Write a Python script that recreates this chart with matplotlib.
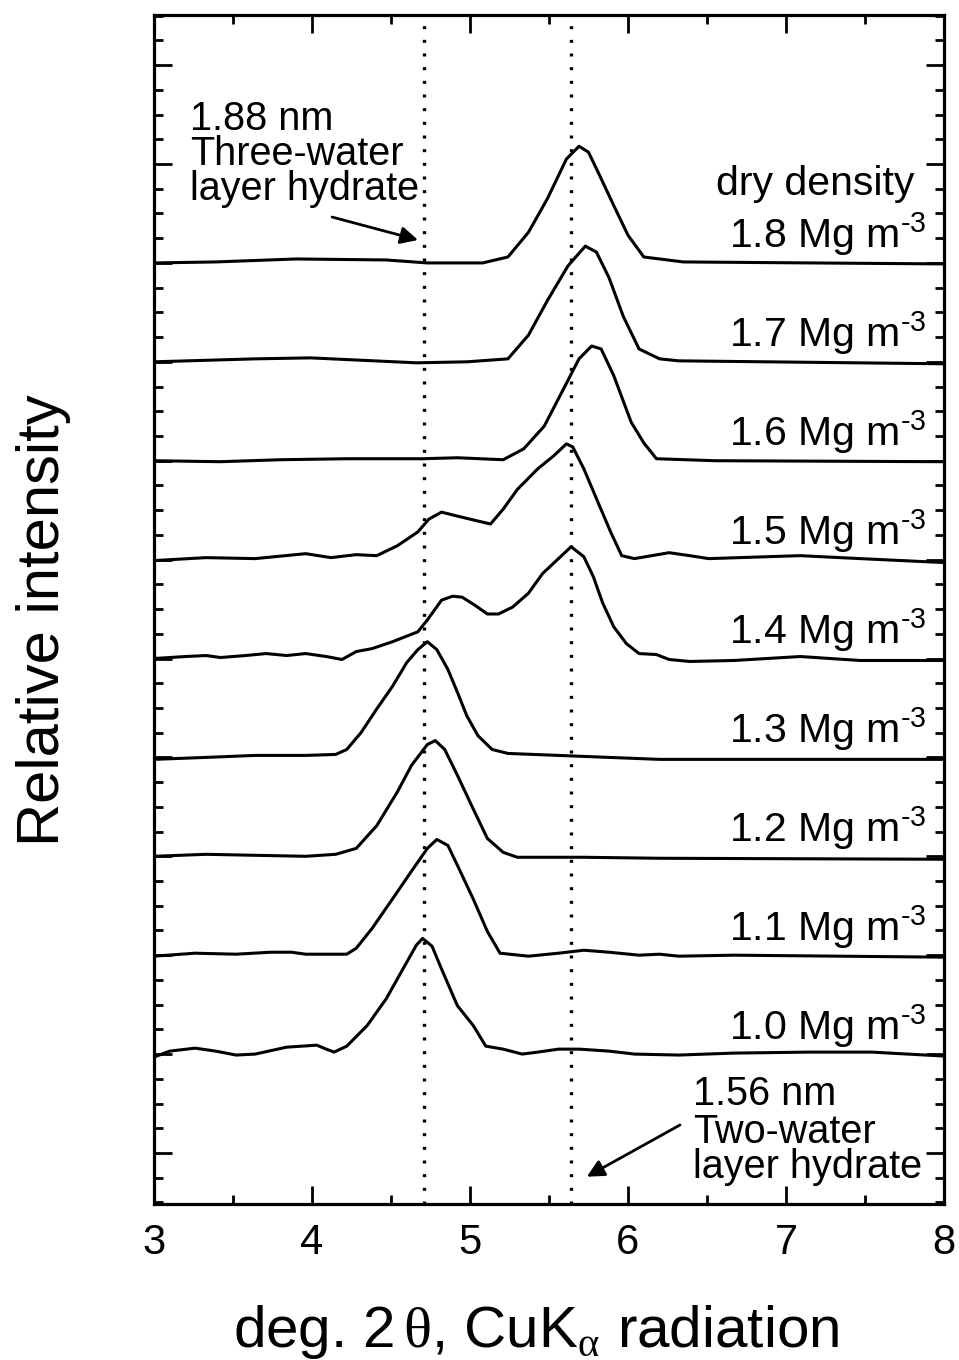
import matplotlib
matplotlib.use("Agg")
import matplotlib.pyplot as plt
from matplotlib.ticker import MultipleLocator

plt.rcParams['font.family'] = ['Liberation Sans', 'DejaVu Sans']
plt.rcParams['mathtext.fontset'] = 'custom'
plt.rcParams['mathtext.rm'] = 'Liberation Sans'
plt.rcParams['mathtext.it'] = 'Liberation Sans:italic'
plt.rcParams['mathtext.tt'] = 'Liberation Serif'

# ---- XRD traces (2θ in degrees, intensity above each baseline) ----
densities = ["1.0", "1.1", "1.2", "1.3", "1.4", "1.5", "1.6", "1.7", "1.8"]
offsets = [1, 2, 3, 4, 5, 6, 7, 8, 9]

tt_10 = [3.0, 3.10, 3.26, 3.39, 3.52, 3.64, 3.84, 4.03, 4.09, 4.14, 4.22, 4.35, 4.47,
         4.60, 4.66, 4.70, 4.76, 4.82, 4.92, 5.02, 5.10, 5.21, 5.33, 5.43, 5.56, 5.69,
         5.88, 6.04, 6.32, 6.67, 7.15, 7.54, 8.0]
i_10 = [-0.03, 0.03, 0.06, 0.03, -0.01, 0.0, 0.07, 0.09, 0.05, 0.02, 0.08, 0.29, 0.56,
        0.93, 1.10, 1.17, 1.09, 0.86, 0.49, 0.29, 0.08, 0.05, 0.0, 0.02, 0.05, 0.05,
        0.03, 0.0, -0.01, 0.01, 0.02, 0.02, -0.02]

tt_11 = [3.0, 3.26, 3.52, 3.74, 3.87, 3.96, 4.22, 4.28, 4.38, 4.51, 4.63, 4.73, 4.79,
         4.86, 4.92, 5.02, 5.11, 5.19, 5.37, 5.56, 5.72, 5.88, 6.07, 6.20, 6.32, 6.67, 8.0]
i_11 = [-0.01, 0.02, 0.01, 0.03, 0.03, 0.01, 0.01, 0.07, 0.27, 0.57, 0.85, 1.08, 1.17,
        1.11, 0.91, 0.57, 0.24, 0.02, -0.01, 0.02, 0.05, 0.03, 0.0, 0.01, -0.01, 0.0, -0.02]

tt_12 = [3.0, 3.33, 3.64, 3.96, 4.15, 4.28, 4.41, 4.54, 4.63, 4.73, 4.78, 4.84, 4.92,
         5.02, 5.11, 5.21, 5.30, 5.72, 6.20, 8.0]
i_12 = [0.0, 0.02, 0.01, 0.0, 0.02, 0.08, 0.31, 0.65, 0.92, 1.13, 1.17, 1.08, 0.82,
        0.48, 0.18, 0.04, -0.01, -0.01, -0.02, -0.03]

tt_13 = [3.0, 3.33, 3.64, 3.96, 4.15, 4.22, 4.31, 4.41, 4.51, 4.60, 4.67, 4.73, 4.79,
         4.86, 4.92, 4.98, 5.05, 5.14, 5.24, 5.56, 5.88, 6.20, 6.83, 8.0]
i_13 = [-0.02, 0.0, 0.02, 0.02, 0.03, 0.08, 0.25, 0.49, 0.72, 0.96, 1.09, 1.17, 1.09,
        0.89, 0.66, 0.42, 0.22, 0.08, 0.04, 0.02, 0.0, -0.02, -0.02, -0.02]

tt_14 = [3.0, 3.20, 3.33, 3.42, 3.58, 3.71, 3.84, 3.96, 4.09, 4.19, 4.28, 4.38, 4.51,
         4.67, 4.73, 4.82, 4.89, 4.95, 5.03, 5.11, 5.18, 5.27, 5.37, 5.46, 5.56, 5.64,
         5.72, 5.78, 5.84, 5.91, 5.99, 6.07, 6.18, 6.26, 6.39, 6.67, 7.09, 7.47, 8.0]
i_14 = [0.0, 0.02, 0.03, 0.01, 0.03, 0.05, 0.03, 0.05, 0.02, -0.01, 0.07, 0.10, 0.17,
        0.27, 0.39, 0.59, 0.63, 0.62, 0.54, 0.45, 0.45, 0.52, 0.66, 0.86, 1.01, 1.13,
        1.03, 0.83, 0.56, 0.32, 0.15, 0.05, 0.04, -0.01, -0.03, -0.02, 0.02, -0.02, -0.02]

tt_15 = [3.0, 3.33, 3.64, 3.96, 4.12, 4.28, 4.41, 4.54, 4.67, 4.74, 4.82, 4.92, 5.05,
         5.13, 5.21, 5.30, 5.43, 5.53, 5.61, 5.65, 5.72, 5.81, 5.89, 5.96, 6.04, 6.26,
         6.39, 6.51, 7.09, 7.47, 8.0]
i_15 = [-0.01, 0.02, 0.01, 0.06, 0.02, 0.05, 0.04, 0.14, 0.28, 0.41, 0.48, 0.44, 0.39,
        0.36, 0.51, 0.71, 0.92, 1.05, 1.17, 1.14, 0.92, 0.58, 0.28, 0.04, 0.01, 0.07,
        0.04, 0.01, 0.04, 0.01, -0.03]

tt_16 = [3.0, 3.42, 3.80, 4.22, 4.70, 4.92, 5.21, 5.34, 5.47, 5.59, 5.69, 5.77, 5.83,
         5.91, 6.02, 6.10, 6.18, 6.55, 8.0]
i_16 = [0.0, -0.01, 0.01, 0.02, 0.02, 0.03, 0.01, 0.12, 0.35, 0.72, 1.03, 1.16, 1.13,
        0.86, 0.39, 0.18, 0.02, 0.0, -0.01]

tt_17 = [3.0, 3.64, 3.99, 4.66, 4.98, 5.24, 5.37, 5.49, 5.62, 5.73, 5.80, 5.88, 5.97,
         6.07, 6.20, 6.32, 8.0]
i_17 = [0.0, 0.03, 0.04, -0.01, 0.0, 0.03, 0.27, 0.62, 0.97, 1.17, 1.11, 0.85, 0.46,
        0.13, 0.03, 0.01, -0.02]

tt_18 = [3.0, 3.39, 3.90, 4.47, 4.73, 5.08, 5.24, 5.37, 5.49, 5.61, 5.69, 5.75, 5.81,
         5.91, 6.00, 6.10, 6.35, 7.15, 8.0]
i_18 = [0.0, 0.01, 0.04, 0.03, 0.0, 0.0, 0.06, 0.31, 0.65, 1.05, 1.18, 1.12, 0.92,
        0.58, 0.28, 0.06, 0.01, 0.0, -0.01]

traces = [(tt_10, i_10), (tt_11, i_11), (tt_12, i_12), (tt_13, i_13), (tt_14, i_14),
          (tt_15, i_15), (tt_16, i_16), (tt_17, i_17), (tt_18, i_18)]

# reference peak positions (deg 2θ) for the two hydrate states
hydrate_peaks = [4.71, 5.64]

fig = plt.figure(figsize=(9.59, 13.60), dpi=100)
ax = fig.add_axes([154 / 959, 1 - 1204 / 1360, (944 - 154) / 959, (1204 - 15) / 1360])

for (tt, inten), off in zip(traces, offsets):
    ax.plot(tt, [v + off for v in inten], color='black', lw=2.2,
            solid_joinstyle='round', solid_capstyle='round')

for xp in hydrate_peaks:
    ax.axvline(xp, color='black', lw=2.4, linestyle=(0, (0.9, 3.2)))

ax.set_xlim(3, 8)
ax.set_ylim(-0.516, 11.507)
ax.xaxis.set_major_locator(MultipleLocator(1))
ax.xaxis.set_minor_locator(MultipleLocator(0.5))
ax.yaxis.set_major_locator(MultipleLocator(1))
ax.yaxis.set_minor_locator(MultipleLocator(0.25))
ax.tick_params(which='both', direction='in', top=True, right=True, width=2.0)
ax.tick_params(which='major', length=13)
ax.tick_params(which='minor', length=6.5)
ax.tick_params(axis='x', which='major', labelsize=30, pad=14)
ax.tick_params(axis='y', which='both', labelleft=False)
for sp in ax.spines.values():
    sp.set_linewidth(2.3)

# density labels
label_fs = 29.5
for d, off in zip(densities, offsets):
    ax.text(7.89, off + 0.15, d + r" Mg m$^{\text{-}3}$", ha='right', va='baseline',
            fontsize=label_fs)
ax.text(7.81, 9.687, "dry density", ha='right', va='baseline', fontsize=label_fs)

# hydrate annotations
note_fs = 28.5
for txt, y in zip(["1.88 nm", "Three-water", "layer hydrate"], [10.344, 9.99, 9.636]):
    ax.text(3.228, y, txt, ha='left', va='baseline', fontsize=note_fs)
for txt, y in zip(["1.56 nm", "Two-water", "layer hydrate"], [0.485, 0.10, -0.253]):
    ax.text(6.411, y, txt, ha='left', va='baseline', fontsize=note_fs)

arrow_kw = dict(arrowstyle='-|>', color='black', lw=2.0, mutation_scale=26,
                shrinkA=0, shrinkB=0)
ax.annotate("", xy=(4.671, 9.232), xytext=(4.127, 9.464), arrowprops=arrow_kw)
ax.annotate("", xy=(5.739, -0.24), xytext=(6.329, 0.283), arrowprops=arrow_kw)

fig.text(536 / 959, 1 - 1347 / 1360,
         r"deg. 2$\,\mathtt{\theta}$, CuK$_{\mathtt{\alpha}}$ radiation",
         ha='center', va='baseline', fontsize=42)
fig.text(44 / 959, 1 - 620 / 1360, "Relative intensity", rotation=90,
         ha='center', va='center', fontsize=43)

fig.savefig("out.png", dpi=100)
